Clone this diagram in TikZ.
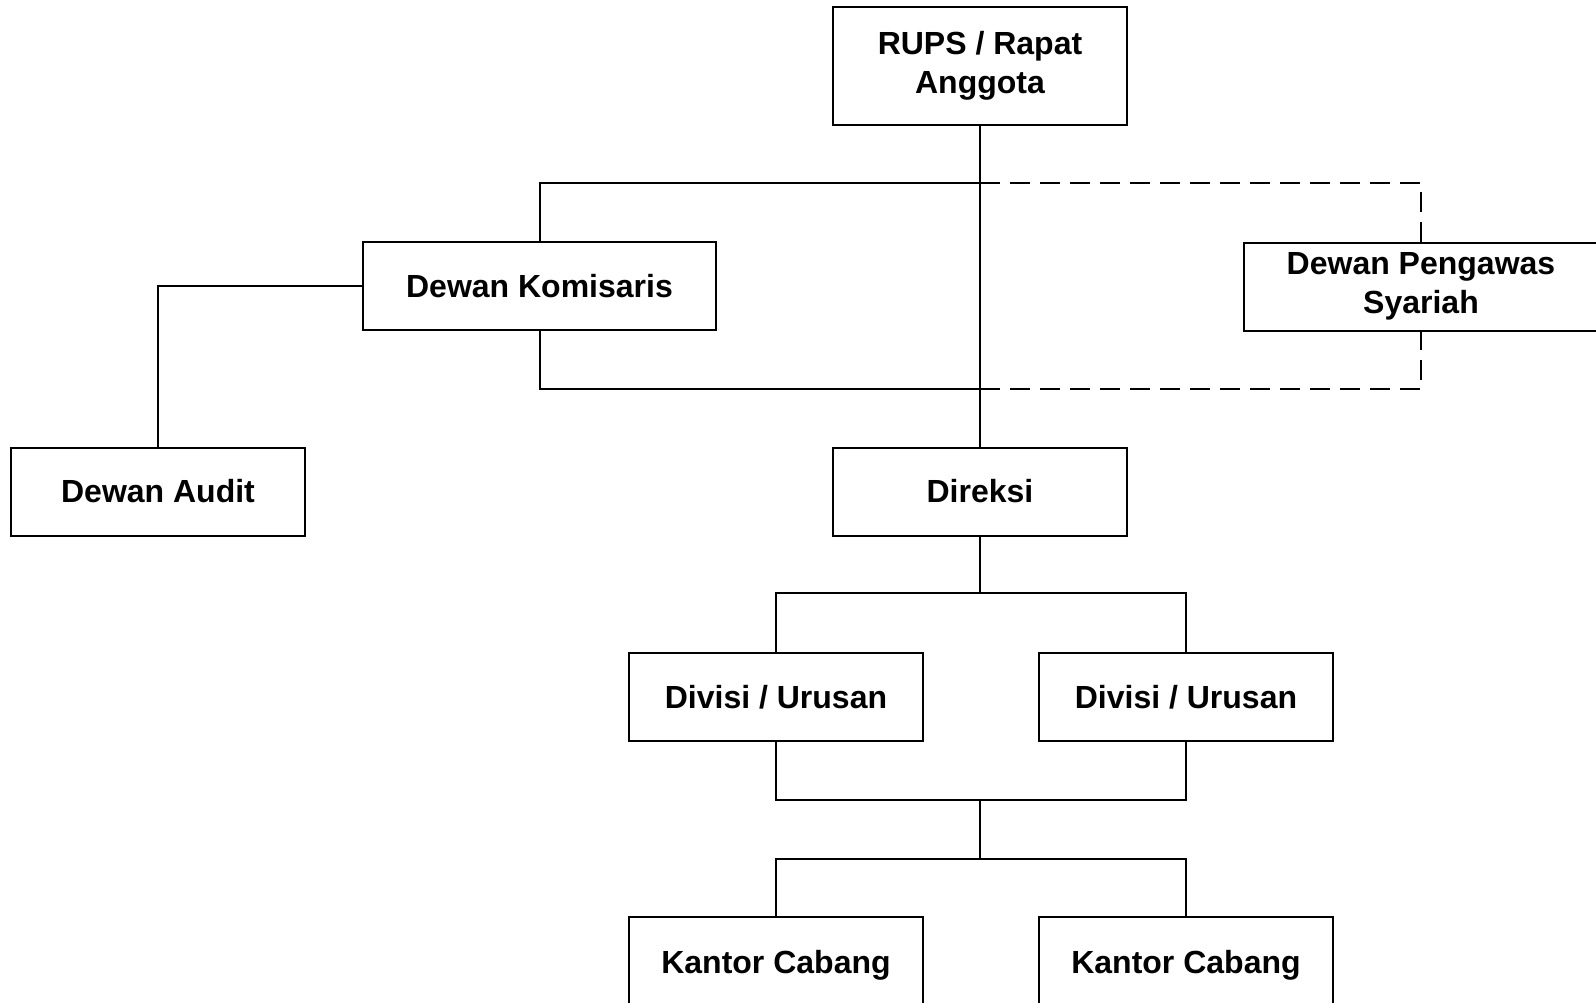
\documentclass[tikz,border=0pt]{standalone}
\usepackage{fontspec}
\setmainfont{Liberation Sans}

\tikzset{every picture/.style={line width=1.5pt}}
\tikzset{
  orgbox/.style={draw, line width=1.5pt, inner sep=0.75pt, align=center,
    minimum width=220.5pt, minimum height=66pt,
    font=\fontsize{24}{29}\selectfont\bfseries},
  dashlink/.style={dash pattern=on 15pt off 7.5pt}
}

\begin{document}
\begin{tikzpicture}[x=0.75pt,y=0.75pt,yscale=-1,xscale=1]
        %set diagram frame, 1596 x 1003
        \clip (0,0) rectangle (1596,1003);

        %Shape: Rectangle [id:rups]
        \draw (980,66) node [orgbox, minimum height=88.5pt] (rups) {RUPS / Rapat\\Anggota};
        %Shape: Rectangle [id:kom]
        \draw (539.5,286) node [orgbox, minimum width=264.75pt] (kom) {Dewan Komisaris};
        %Shape: Rectangle [id:dps]
        \draw (1421,286.5) node [orgbox, minimum width=265.5pt] (dps) {Dewan Pengawas\\Syariah};
        %Shape: Rectangle [id:audit]
        \draw (158,491.5) node [orgbox] (audit) {Dewan Audit};
        %Shape: Rectangle [id:direksi]
        \draw (980,491.5) node [orgbox] (direksi) {Direksi};
        %Shape: Rectangle [id:div1]
        \draw (776,697) node [orgbox] (div1) {Divisi / Urusan};
        %Shape: Rectangle [id:div2]
        \draw (1186,697) node [orgbox] (div2) {Divisi / Urusan};
        %Shape: Rectangle [id:kan1] (runs past the lower edge)
        \draw (776,965) node [orgbox, minimum height=72pt] (kan1) {Kantor Cabang};
        %Shape: Rectangle [id:kan2]
        \draw (1186,965) node [orgbox, minimum height=72pt] (kan2) {Kantor Cabang};

        %junction points
        \coordinate (busA) at (980,183);
        \coordinate (busB) at (980,389);
        \coordinate (splitA) at (980,593);
        \coordinate (joinB) at (980,800);
        \coordinate (splitC) at (980,859);

        %Straight Lines [id:rups-direksi]
        \draw (rups.south) -- (direksi.north);
        %Straight Lines [id:kom-bus]
        \draw (kom.north) |- (busA);
        \draw (kom.south) |- (busB);
        %Straight Lines [id:dps-bus]
        \draw [dashlink] (busA) -| (dps.north);
        \draw [dashlink] (busB) -| (dps.south);
        %Straight Lines [id:kom-audit]
        \draw (kom.west) -| (audit.north);
        %Straight Lines [id:direksi-divisi]
        \draw (direksi.south) -- (splitA);
        \draw (div1.north) |- (splitA) -| (div2.north);
        %Straight Lines [id:divisi-kantor]
        \draw (div1.south) |- (joinB) -| (div2.south);
        \draw (joinB) -- (splitC);
        \draw (kan1.north) |- (splitC) -| (kan2.north);

    \end{tikzpicture}
\end{document}
